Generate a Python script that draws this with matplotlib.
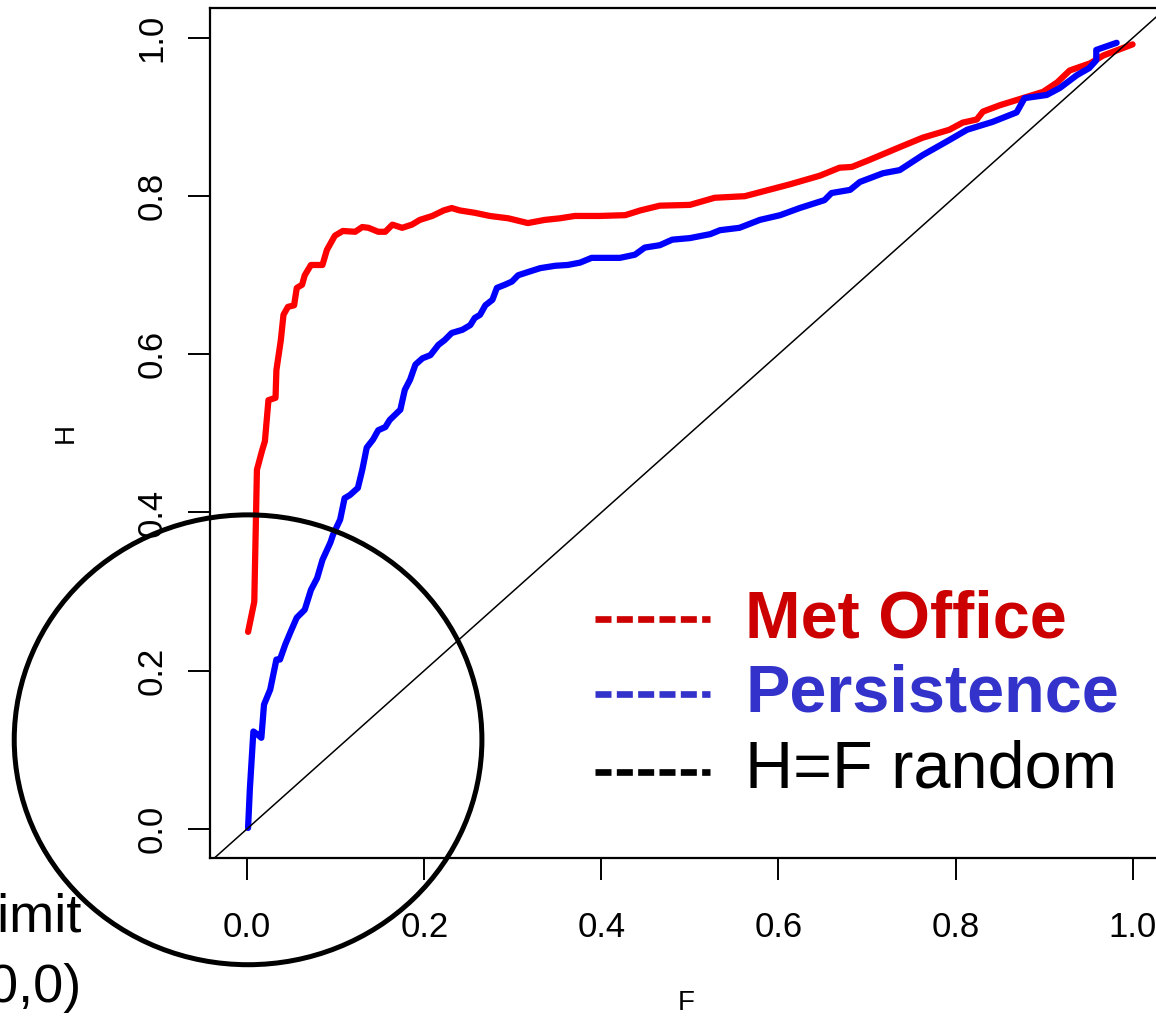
import matplotlib
matplotlib.use("Agg")
import matplotlib.pyplot as plt
from matplotlib.patches import Ellipse

# ROC-style curves
met_F = [0.001, 0.008, 0.011, 0.017, 0.020, 0.024, 0.032, 0.033, 0.038, 0.041, 0.046, 0.053,
         0.056, 0.062, 0.065, 0.072, 0.085, 0.090, 0.094, 0.099, 0.108, 0.122, 0.130, 0.137,
         0.148, 0.156, 0.164, 0.175, 0.186, 0.195, 0.209, 0.222, 0.231, 0.240, 0.257, 0.274,
         0.295, 0.317, 0.336, 0.353, 0.370, 0.398, 0.427, 0.444, 0.466, 0.500, 0.528, 0.562,
         0.579, 0.613, 0.647, 0.669, 0.683, 0.703, 0.737, 0.763, 0.793, 0.808, 0.824, 0.831,
         0.850, 0.876, 0.899, 0.915, 0.929, 0.952, 0.967, 1.000]
met_H = [0.249, 0.287, 0.454, 0.479, 0.490, 0.542, 0.545, 0.580, 0.618, 0.650, 0.660, 0.662,
         0.684, 0.688, 0.700, 0.713, 0.713, 0.732, 0.740, 0.750, 0.756, 0.755, 0.761, 0.760,
         0.755, 0.755, 0.764, 0.760, 0.764, 0.770, 0.775, 0.782, 0.785, 0.782, 0.779, 0.775,
         0.772, 0.766, 0.770, 0.772, 0.775, 0.775, 0.776, 0.782, 0.788, 0.789, 0.798, 0.800,
         0.805, 0.815, 0.826, 0.836, 0.837, 0.846, 0.862, 0.874, 0.884, 0.893, 0.897, 0.907,
         0.915, 0.924, 0.932, 0.944, 0.959, 0.968, 0.978, 0.992]

per_F = [0.001, 0.003, 0.007, 0.012, 0.016, 0.019, 0.026, 0.033, 0.037, 0.043, 0.049, 0.056,
         0.065, 0.072, 0.079, 0.085, 0.094, 0.097, 0.105, 0.110, 0.116, 0.125, 0.130, 0.135,
         0.142, 0.148, 0.156, 0.161, 0.173, 0.178, 0.184, 0.190, 0.198, 0.207, 0.216, 0.223,
         0.231, 0.243, 0.252, 0.257, 0.263, 0.269, 0.277, 0.282, 0.291, 0.299, 0.306, 0.317,
         0.331, 0.348, 0.362, 0.376, 0.389, 0.421, 0.438, 0.449, 0.466, 0.480, 0.500, 0.523,
         0.534, 0.556, 0.579, 0.602, 0.624, 0.652, 0.660, 0.681, 0.692, 0.718, 0.737, 0.763,
         0.793, 0.813, 0.842, 0.869, 0.878, 0.903, 0.918, 0.937, 0.951, 0.959, 0.959, 0.982]
per_H = [0.001, 0.050, 0.123, 0.119, 0.115, 0.157, 0.176, 0.214, 0.214, 0.233, 0.249, 0.267,
         0.277, 0.302, 0.317, 0.340, 0.362, 0.372, 0.391, 0.418, 0.422, 0.431, 0.454, 0.482,
         0.492, 0.504, 0.508, 0.517, 0.530, 0.555, 0.568, 0.587, 0.595, 0.599, 0.612, 0.618,
         0.627, 0.631, 0.637, 0.646, 0.650, 0.662, 0.669, 0.684, 0.688, 0.692, 0.700, 0.704,
         0.709, 0.712, 0.713, 0.716, 0.722, 0.722, 0.726, 0.735, 0.738, 0.745, 0.747, 0.752,
         0.757, 0.760, 0.770, 0.776, 0.785, 0.795, 0.804, 0.808, 0.818, 0.829, 0.833, 0.852,
         0.871, 0.884, 0.894, 0.906, 0.924, 0.928, 0.937, 0.953, 0.962, 0.972, 0.985, 0.994]

ticks = [0.0, 0.2, 0.4, 0.6, 0.8, 1.0]
tick_labels = ["0.0", "0.2", "0.4", "0.6", "0.8", "1.0"]
legend_names = ["Met Office", "Persistence", "H=F random"]

plt.rcParams['font.family'] = ['Liberation Sans', 'DejaVu Sans']

W, Hpx = 1156, 1016
fig = plt.figure(figsize=(W / 100, Hpx / 100), dpi=100)
# axes box runs off the right edge of the picture (cropped slide)
ax = fig.add_axes([210 / W, (Hpx - 858) / Hpx, 958 / W, 850 / Hpx])

ax.plot(met_F, met_H, color="#ff0000", lw=4.5, solid_capstyle="round")
ax.plot(per_F, per_H, color="#0000ff", lw=4.5, solid_capstyle="round")
ax.axline((0, 0), slope=1, color="black", lw=1.1)

ax.set_xlim(-0.042, 1.04)
ax.set_ylim(-0.037, 1.038)
ax.set_xticks(ticks)
ax.set_xticklabels(tick_labels)
ax.set_yticks(ticks)
ax.set_yticklabels(tick_labels, rotation=90, va="center")
ax.tick_params(direction="out", length=16, width=1.4, labelsize=25)
ax.tick_params(axis="x", pad=22)
ax.tick_params(axis="y", pad=14)
for s in ax.spines.values():
    s.set_linewidth(1.6)
ax.set_xlabel("F", fontsize=20)
ax.set_ylabel("H", fontsize=20)
ax.xaxis.set_label_coords(0.497, -0.155)
ax.yaxis.set_label_coords(-0.137, 0.5)

# circle marking the (0,0) corner
circ = Ellipse((0.001, 0.1125), 468 / 886, 450 / 791, fill=False, ec="black", lw=3.6,
               clip_on=False, zorder=5)
ax.add_patch(circ)

fig.text(82 / W, 1 - 918 / Hpx, "Limit", fontsize=39, ha="right", va="center")
fig.text(82 / W, 1 - 988 / Hpx, "(0,0)", fontsize=39, ha="right", va="center")

# hand-drawn legend
leg_cols = ["#cc0000", "#3333cc", "black"]
leg_weight = ["bold", "bold", "normal"]
line_y = [619, 694, 772]
base_y = [637, 712, 788]
for name, c, wgt, ly, by in zip(legend_names, leg_cols, leg_weight, line_y, base_y):
    ax.plot([(595 - 210) / 958, (710 - 210) / 958], [(858 - ly) / 850] * 2,
            transform=ax.transAxes, color=c, lw=4.8, dashes=(2.4, 0.8), clip_on=False)
    ax.text((745 - 210) / 958, (858 - by) / 850, name, transform=ax.transAxes,
            color=c, fontsize=48, fontweight=wgt, va="baseline", ha="left")

fig.savefig("out.png", dpi=100)
